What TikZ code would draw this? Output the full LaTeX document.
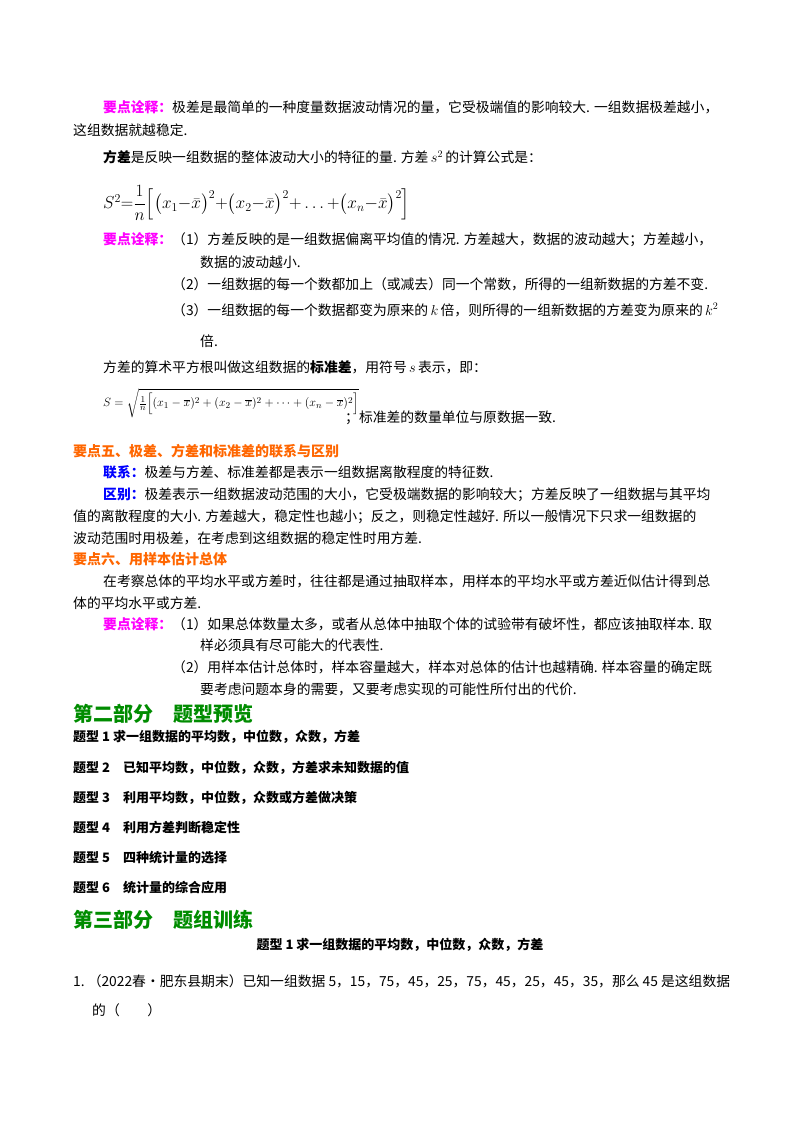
\documentclass[tikz,border=0pt]{standalone}
\usepackage{amsmath}
\usepackage{fontspec}
\setmainfont{Noto Sans CJK SC}
\definecolor{mg}{RGB}{255,0,255}
\definecolor{og}{RGB}{255,102,0}
\definecolor{bl}{RGB}{0,0,255}
\definecolor{gn}{RGB}{0,140,0}
\tikzset{ln/.style={anchor=west,inner sep=0pt,font=\fontsize{13.8}{16}\selectfont},
hd/.style={anchor=west,inner sep=0pt,font=\fontsize{14}{16}\selectfont\bfseries,text=og},
big/.style={anchor=west,inner sep=0pt,font=\fontsize{20}{24}\selectfont\bfseries,text=gn},
tx/.style={anchor=west,inner sep=0pt,font=\fontsize{13}{16}\selectfont\bfseries}}
\newcommand{\yd}{\textcolor{mg}{\textbf{要点诠释：}}}
\begin{document}
\begin{tikzpicture}[x=1pt,y=-1pt]
\useasboundingbox (0,0) rectangle (800,1132);
\node[ln] (l1) at (103,107) {\yd 极差是最简单的一种度量数据波动情况的量，它受极端值的影响较大. 一组数据极差越小，};
\node[ln] (l2) at (73,130) {这组数据就越稳定.};
\node[ln] (l3) at (103,157) {\textbf{方差}是反映一组数据的整体波动大小的特征的量. 方差\,$s^2$\,的计算公式是：};
\node[ln,font=\fontsize{17}{20}\selectfont] (f1) at (103,203) {$S^2{=}\dfrac{1}{n}\Big[\big(x_1{-}\bar x\big)^2{+}\big(x_2{-}\bar x\big)^2{+}\ldots{+}\big(x_n{-}\bar x\big)^2\Big]$};
\node[ln] (l4) at (103,240) {\yd （1）方差反映的是一组数据偏离平均值的情况. 方差越大，数据的波动越大；方差越小，};
\node[ln] (l5) at (200,262) {数据的波动越小.};
\node[ln] (l6) at (172,284) {（2）一组数据的每一个数都加上（或减去）同一个常数，所得的一组新数据的方差不变.};
\node[ln] (l7) at (172,310) {（3）一组数据的每一个数据都变为原来的\,$k$\,倍，则所得的一组新数据的方差变为原来的\,$k^2$};
\node[ln] (l8) at (200,341) {倍.};
\node[ln] (l9) at (103,367) {方差的算术平方根叫做这组数据的\textbf{标准差}，用符号\,$s$\,表示，即：};
\node[ln,font=\fontsize{12.5}{14}\selectfont] (f2) at (103,403) {$S=\sqrt{\tfrac{1}{n}\Big[(x_1-\overline{x})^2+(x_2-\overline{x})^2+\cdots+(x_n-\overline{x})^2\Big]}$};
\node[ln] (l10) at (345,418) {；标准差的数量单位与原数据一致.};
\node[hd] (h5) at (73,451) {要点五、极差、方差和标准差的联系与区别};
\node[ln] (l11) at (103,472) {\textcolor{bl}{\textbf{联系：}}极差与方差、标准差都是表示一组数据离散程度的特征数.};
\node[ln] (l12) at (103,495) {\textcolor{bl}{\textbf{区别：}}极差表示一组数据波动范围的大小，它受极端数据的影响较大；方差反映了一组数据与其平均};
\node[ln] (l13) at (73,517) {值的离散程度的大小. 方差越大，稳定性也越小；反之，则稳定性越好. 所以一般情况下只求一组数据的};
\node[ln] (l14) at (73,538) {波动范围时用极差，在考虑到这组数据的稳定性时用方差.};
\node[hd] (h6) at (73,559) {要点六、用样本估计总体};
\node[ln] (l15) at (103,581) {在考察总体的平均水平或方差时，往往都是通过抽取样本，用样本的平均水平或方差近似估计得到总};
\node[ln] (l16) at (73,603) {体的平均水平或方差.};
\node[ln] (l17) at (103,624) {\yd （1）如果总体数量太多，或者从总体中抽取个体的试验带有破坏性，都应该抽取样本. 取};
\node[ln] (l18) at (200,645) {样必须具有尽可能大的代表性.};
\node[ln] (l19) at (172,667) {（2）用样本估计总体时，样本容量越大，样本对总体的估计也越精确. 样本容量的确定既};
\node[ln] (l20) at (200,689) {要考虑问题本身的需要，又要考虑实现的可能性所付出的代价.};
\node[big] (p2) at (73,714) {第二部分\quad 题型预览};
\node[tx] (t1) at (73,737) {题型 1 求一组数据的平均数，中位数，众数，方差};
\node[tx] (t2) at (73,768) {题型 2\quad 已知平均数，中位数，众数，方差求未知数据的值};
\node[tx] (t3) at (73,798) {题型 3\quad 利用平均数，中位数，众数或方差做决策};
\node[tx] (t4) at (73,828) {题型 4\quad 利用方差判断稳定性};
\node[tx] (t5) at (73,858) {题型 5\quad 四种统计量的选择};
\node[tx] (t6) at (73,888) {题型 6\quad 统计量的综合应用};
\node[big] (p3) at (73,920) {第三部分\quad 题组训练};
\node[tx,anchor=center] (t7) at (400,945) {题型 1 求一组数据的平均数，中位数，众数，方差};
\node[ln] (q1) at (73,981) {1.\ （2022春•肥东县期末）已知一组数据 5，15，75，45，25，75，45，25，45，35，那么 45 是这组数据};
\node[ln] (q2) at (92,1010) {的（\qquad ）};
\end{tikzpicture}
\end{document}
